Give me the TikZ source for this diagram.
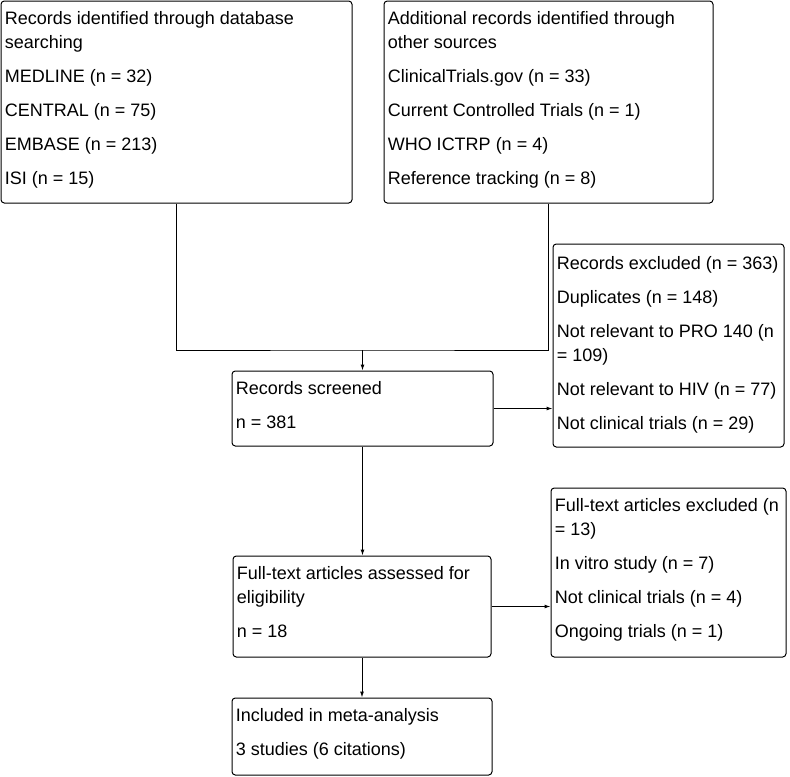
\documentclass[tikz,border=0pt]{standalone}
\usepackage{fontspec}
\setmainfont{Liberation Sans}
\usetikzlibrary{arrows.meta,fit}
\begin{document}
\begin{tikzpicture}[x=0.75pt,y=-0.75pt,
  box/.style={draw=black, line width=0.75pt, rounded corners=2.5pt, inner sep=0pt},
  txt/.style={anchor=north west, inner sep=0pt, align=left, font=\fontsize{13.5}{18}\selectfont},
  conn/.style={line width=0.75pt, draw=black},
  arr/.style={conn, -{Latex[length=4.5pt,width=3pt]}}]
\useasboundingbox (0,0) rectangle (790,776);
\fill[white] (0,0) rectangle (790,776);
% boxes
\node[box, fit={(1,1) (352,203)}] (A) {};
\node[box, fit={(384,1) (713,203)}] (B) {};
\node[box, fit={(553,244) (784,447)}] (D) {};
\node[box, fit={(232,371) (493,446)}] (C) {};
\node[box, fit={(551,488) (786,657)}] (F) {};
\node[box, fit={(233,556) (491,657)}] (E) {};
\node[box, fit={(232,698) (492,775)}] (G) {};
% texts
\node[txt] (tA) at ([shift={(4,8)}]A.north west) {\rule{0pt}{12pt}Records identified through database\\searching\\[7.5pt]MEDLINE (n = 32)\\[7.5pt]CENTRAL (n = 75)\\[7.5pt]EMBASE (n = 213)\\[7.5pt]ISI (n = 15)};
\node[txt] (tB) at ([shift={(4,8)}]B.north west) {\rule{0pt}{12pt}Additional records identified through\\other sources\\[7.5pt]ClinicalTrials.gov (n = 33)\\[7.5pt]Current Controlled Trials (n = 1)\\[7.5pt]WHO ICTRP (n = 4)\\[7.5pt]Reference tracking (n = 8)};
\node[txt] (tD) at ([shift={(4,10)}]D.north west) {\rule{0pt}{12pt}Records excluded (n = 363)\\[7.5pt]Duplicates (n = 148)\\[7.5pt]Not relevant to PRO 140 (n\\= 109)\\[7.5pt]Not relevant to HIV (n = 77)\\[7.5pt]Not clinical trials (n = 29)};
\node[txt] (tC) at ([shift={(4,8)}]C.north west) {\rule{0pt}{12pt}Records screened\\[7.5pt]n = 381};
\node[txt] (tE) at ([shift={(4,8)}]E.north west) {\rule{0pt}{12pt}Full-text articles assessed for\\eligibility\\[7.5pt]n = 18};
\node[txt] (tF) at ([shift={(4,8)}]F.north west) {\rule{0pt}{12pt}Full-text articles excluded (n\\= 13)\\[7.5pt]In vitro study (n = 7)\\[7.5pt]Not clinical trials (n = 4)\\[7.5pt]Ongoing trials (n = 1)};
\node[txt] (tG) at ([shift={(4,8)}]G.north west) {\rule{0pt}{12pt}Included in meta-analysis\\[7.5pt]3 studies (6 citations)};
% connectors
\coordinate (j) at (C.north |- 0,350);
\draw[conn] (A.south) |- (j) -| (B.south);
\draw[arr] (j) -- (C.north);
\draw[arr] (C.east) -- (C.east -| D.west);
\draw[arr] (C.south) -- (C.south |- E.north);
\draw[arr] (E.east) -- (E.east -| F.west);
\draw[arr] (E.south) -- (E.south |- G.north);
\end{tikzpicture}
\end{document}
